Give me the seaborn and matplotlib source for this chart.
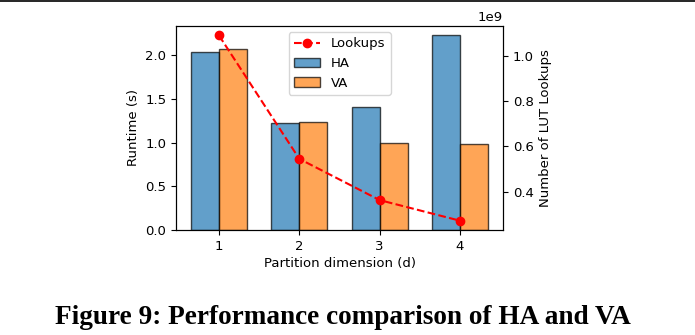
import numpy as np
import pandas as pd
import matplotlib
matplotlib.use("Agg")
import matplotlib.pyplot as plt
from matplotlib.patches import Patch
from matplotlib.lines import Line2D
import seaborn as sns

dims = ["1", "2", "3", "4"]
ha_runtime = [2.04, 1.23, 1.41, 2.23]
va_runtime = [2.07, 1.24, 1.00, 0.98]
lookups = [1.09e9, 0.545e9, 0.363e9, 0.272e9]
methods = ["HA", "VA"]

df = pd.DataFrame({
    "d": dims * 2,
    "runtime": ha_runtime + va_runtime,
    "method": [methods[0]] * 4 + [methods[1]] * 4,
})

FS = 9.5
plt.rcParams["font.size"] = FS
plt.rcParams["font.family"] = ["DejaVu Sans"]

fig = plt.figure(figsize=(6.95, 3.35), dpi=100)
ax = fig.add_axes([176 / 695, 1 - 230 / 335, (503 - 176) / 695, (230 - 25.5) / 335])

colors = {"HA": "#1f77b4", "VA": "#ff7f0e"}
edge = (0, 0, 0, 0.7)
sns.barplot(data=df, x="d", y="runtime", hue="method", palette=colors,
            saturation=1, alpha=0.7, edgecolor=edge, linewidth=1.0,
            width=0.7, ax=ax, legend=False)
ax.set_xlim(-0.535, 3.535)
ax.set_ylim(0, 2.3415)
ax.set_xlabel("Partition dimension (d)", fontsize=FS, labelpad=3)
ax.set_ylabel("Runtime (s)", fontsize=FS)
ax.tick_params(labelsize=FS)

ax2 = ax.twinx()
xpos = np.arange(len(dims))
ax2.plot(xpos, lookups, linestyle="--", marker="o", color="red",
         linewidth=1.5, markersize=6, label="Lookups")
ax2.set_ylim(0.231e9, 1.134e9)
ax2.set_ylabel("Number of LUT Lookups", fontsize=FS)
ax2.tick_params(labelsize=FS)
ax2.yaxis.get_offset_text().set_fontsize(FS)

handles = [
    Line2D([0], [0], linestyle="--", marker="o", color="red", linewidth=1.5, markersize=6),
    Patch(facecolor=colors["HA"], alpha=0.7, edgecolor="black", linewidth=1.0),
    Patch(facecolor=colors["VA"], alpha=0.7, edgecolor="black", linewidth=1.0),
]
ax2.legend(handles, ["Lookups", "HA", "VA"], loc="upper center", fontsize=FS)

fig.add_artist(Line2D([0, 1], [1 - 0.8 / 335, 1 - 0.8 / 335], color="black", linewidth=1.2,
                      transform=fig.transFigure))
fig.text(0.493, 1 - 324.5 / 335, "Figure 9: Performance comparison of HA and VA",
         ha="center", va="baseline", fontsize=19.6, fontweight="bold",
         family=["Liberation Serif", "DejaVu Serif"])

fig.savefig("out.png", dpi=100)
